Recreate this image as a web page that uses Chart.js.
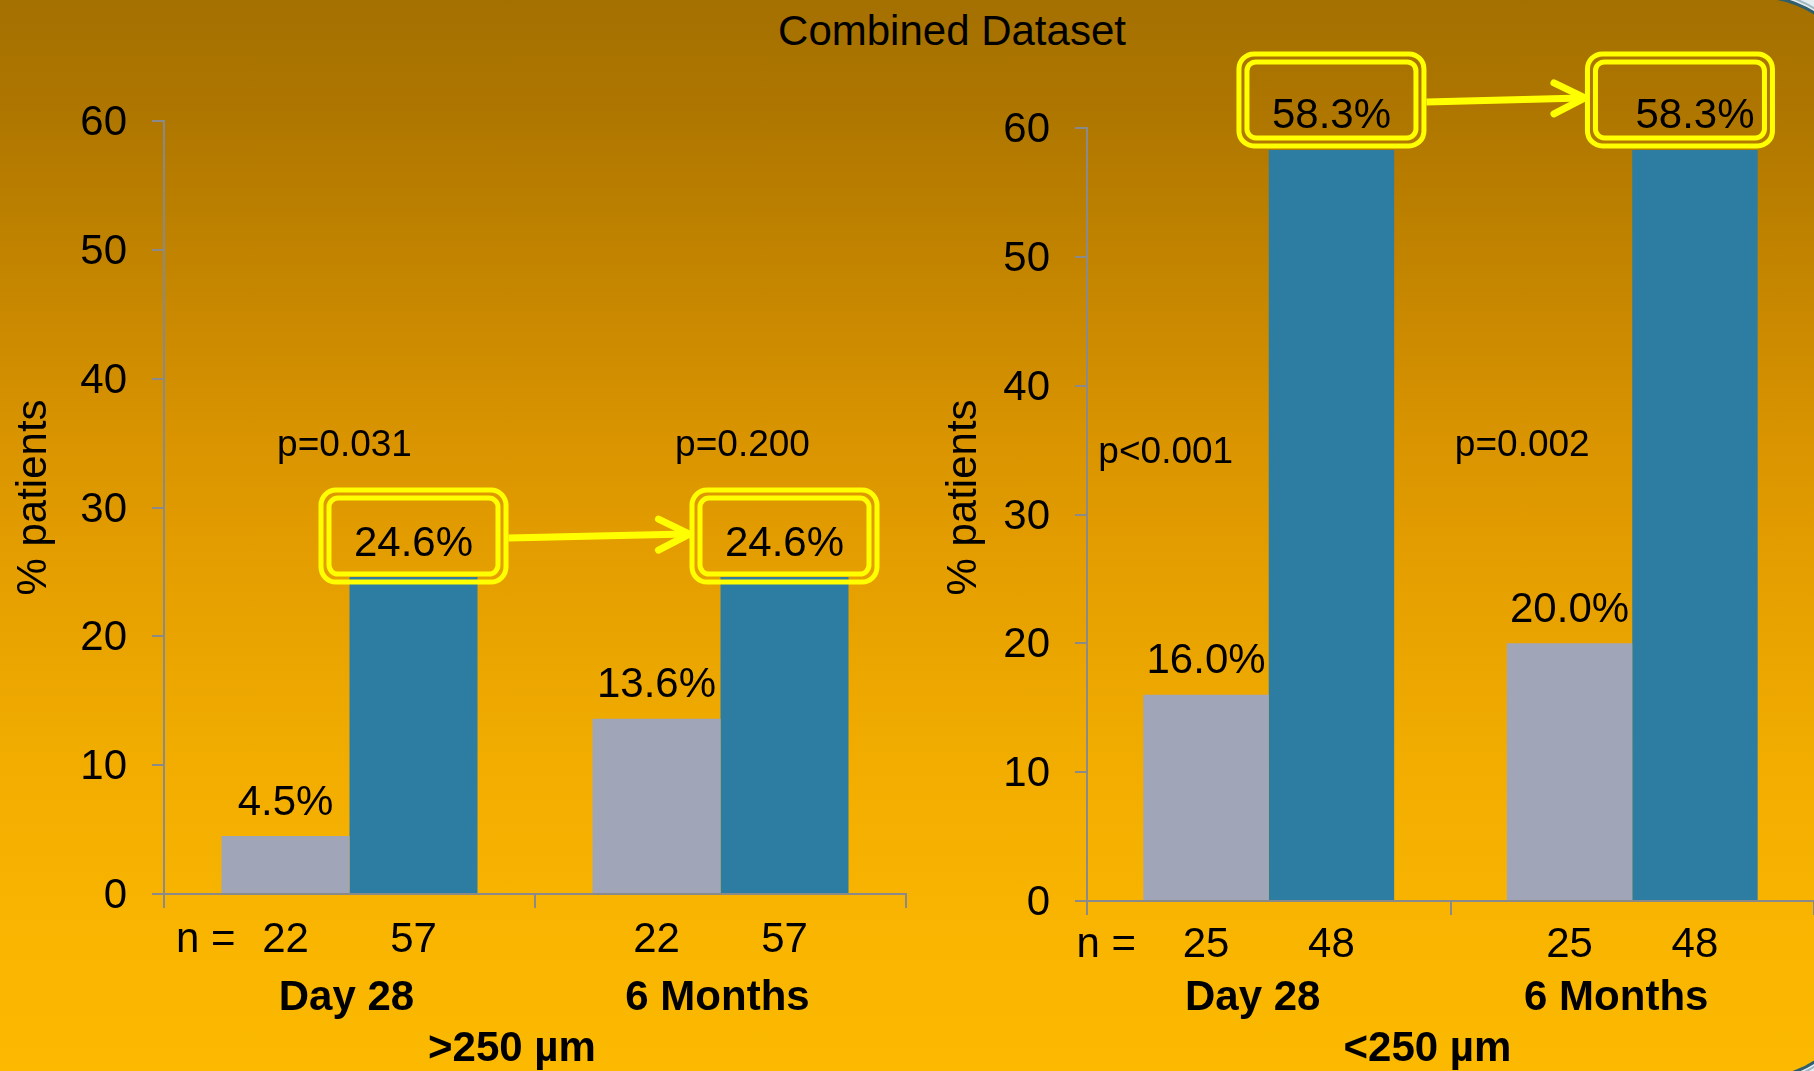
<!DOCTYPE html>
<html>
<head>
<meta charset="utf-8">
<script src="https://cdn.jsdelivr.net/npm/chart.js@4.4.1/dist/chart.umd.min.js"></script>
<style>
  html, body { margin: 0; padding: 0; }
  body {
    width: 1814px; height: 1071px; overflow: hidden; position: relative;
    background: linear-gradient(to bottom, #A47000 0%, #AE7600 10%, #D89300 40%, #E29C00 50%, #F1AC00 70%, #F8B400 85%, #FCB900 100%);
    font-family: "Liberation Sans", Arial, sans-serif;
  }
  #title {
    position: absolute; left: 752px; width: 400px; top: 6px;
    text-align: center; font-size: 42px; line-height: 50px; color: #000;
  }
  canvas { position: absolute; top: 0; }
  #leftChart { left: 0; }
  #rightChart { left: 930px; }
</style>
</head>
<body>
<div id="title">Combined Dataset</div>
<canvas id="leftChart" width="930" height="1071"></canvas>
<canvas id="rightChart" width="884" height="1071"></canvas>
<script>
// ---- data ----
const timepoints = ['Day 28', '6 Months'];
const groupLabels = ['>250 µm', '<250 µm'];
const yTicks = [0, 10, 20, 30, 40, 50, 60];
const yTitle = '% patients';

// >250 µm panel
const leftGray = [4.5, 13.6];
const leftBlue = [24.6, 24.6];
const leftGrayN = [22, 22];
const leftBlueN = [57, 57];
const leftP = ['p=0.031', 'p=0.200'];

// <250 µm panel
const rightGray = [16.0, 20.0];
const rightBlue = [58.3, 58.3];
const rightGrayN = [25, 25];
const rightBlueN = [48, 48];
const rightP = ['p<0.001', 'p=0.002'];

// ---- styling ----
const FONT = '"Liberation Sans", Arial, sans-serif';
const AXIS_GREY = '#8A8A8A';
const GRAY_BAR = '#A1A5B8';
const BLUE_BAR = '#2D7CA1';
const HIGHLIGHT = '#FFFF00';
const NUDGE = 3; // optical centring of middle-baseline text

Chart.defaults.font.family = FONT;
Chart.defaults.color = '#000';

function doubleBox(ctx, cx, cy) {
  ctx.save();
  ctx.strokeStyle = HIGHLIGHT;
  ctx.lineWidth = 5;
  ctx.beginPath();
  ctx.roundRect(cx - 92.5, cy - 46, 185, 92, 15);
  ctx.stroke();
  ctx.beginPath();
  ctx.roundRect(cx - 84.5, cy - 38, 169, 76, 9);
  ctx.stroke();
  ctx.restore();
}

// value labels, highlight boxes, arrow, n counts, p-values, axis title and group caption
const callouts = {
  id: 'callouts',
  afterDatasetsDraw(chart, args, o) {
    const { ctx, chartArea, scales: { x, y } } = chart;
    const grayMeta = chart.getDatasetMeta(0);
    const blueMeta = chart.getDatasetMeta(1);
    const ds = chart.data.datasets;
    ctx.save();
    ctx.fillStyle = '#000';
    ctx.textAlign = 'center';
    ctx.textBaseline = 'middle';

    // grey bar values
    ctx.font = '42px ' + FONT;
    grayMeta.data.forEach((bar, i) => {
      ctx.fillText(ds[0].data[i].toFixed(1) + '%', bar.x, bar.y - 36 + NUDGE);
    });

    // highlighted blue bar values
    const boxes = blueMeta.data.map((bar, i) => {
      const c = { cx: bar.x + o.boxShift[i], cy: bar.y - o.boxLift };
      doubleBox(ctx, c.cx, c.cy);
      return c;
    });
    blueMeta.data.forEach((bar, i) => {
      ctx.fillText(ds[1].data[i].toFixed(1) + '%', bar.x, bar.y - 36 + NUDGE);
    });

    // arrow from first box to second
    const a = boxes[0], b = boxes[1];
    const x0 = a.cx + 95, x1 = b.cx - 95;
    ctx.strokeStyle = HIGHLIGHT;
    ctx.lineWidth = 7;
    ctx.lineCap = 'butt';
    ctx.beginPath();
    ctx.moveTo(x0, a.cy + 2);
    ctx.lineTo(x1 - 3, b.cy - 2);
    ctx.stroke();
    ctx.lineCap = 'round';
    ctx.lineJoin = 'round';
    ctx.beginPath();
    ctx.moveTo(x1 - 31, b.cy - 17);
    ctx.lineTo(x1, b.cy - 2);
    ctx.lineTo(x1 - 31, b.cy + 14);
    ctx.stroke();

    // group sizes
    ctx.font = '42px ' + FONT;
    const nY = chartArea.bottom + o.nGap + NUDGE;
    grayMeta.data.forEach((bar, i) => ctx.fillText(String(o.grayN[i]), bar.x, nY));
    blueMeta.data.forEach((bar, i) => ctx.fillText(String(o.blueN[i]), bar.x, nY));
    ctx.textAlign = 'right';
    ctx.fillText('n =', grayMeta.data[0].x - o.nPrefixGap, nY);

    // p-values
    ctx.textAlign = 'center';
    ctx.font = '37px ' + FONT;
    o.pValues.forEach((txt, i) => {
      const [dx, yv] = o.pPlacement[i];
      ctx.fillText(txt, x.getPixelForValue(i) + dx, y.getPixelForValue(yv) + NUDGE);
    });

    // y-axis title
    ctx.save();
    ctx.font = '42px ' + FONT;
    ctx.translate(y.left + 31, (chartArea.top + chartArea.bottom) / 2 - o.yTitleRaise);
    ctx.rotate(-Math.PI / 2);
    ctx.fillText(yTitle, 0, NUDGE);
    ctx.restore();

    // panel caption
    ctx.font = 'bold 42px ' + FONT;
    ctx.fillText(o.caption, (chartArea.left + chartArea.right) / 2 - 23, chart.height - 25 + NUDGE);
    ctx.restore();
  }
};

// rounded slide corner on the right edge
const slideFrame = {
  id: 'slideFrame',
  afterDraw(chart, args, o) {
    if (!o.enabled) return;
    const { ctx, width, height } = chart;
    const left = -1000, top = -3, right = 1860 - 930, bottom = 1078, r = 100;
    ctx.save();
    ctx.beginPath();
    ctx.rect(0, 0, width, height);
    ctx.roundRect(left, top, right - left, bottom - top, r);
    ctx.fillStyle = '#E6EDF0';
    ctx.fill('evenodd');
    ctx.beginPath();
    ctx.roundRect(left, top, right - left, bottom - top, r);
    ctx.strokeStyle = '#2F5E6E';
    ctx.lineWidth = 3;
    ctx.stroke();
    ctx.beginPath();
    ctx.roundRect(left - 4, top - 4, right - left + 8, bottom - top + 8, r + 4);
    ctx.strokeStyle = '#9FB8C2';
    ctx.lineWidth = 2;
    ctx.stroke();
    ctx.restore();
  }
};

function makePanel(canvasId, cfg) {
  return new Chart(document.getElementById(canvasId), {
    type: 'bar',
    data: {
      labels: timepoints,
      datasets: [
        { label: 'Gray', data: cfg.gray, backgroundColor: GRAY_BAR, borderWidth: 0,
          categoryPercentage: 0.69, barPercentage: 1.0 },
        { label: 'Blue', data: cfg.blue, backgroundColor: BLUE_BAR, borderWidth: 0,
          categoryPercentage: 0.69, barPercentage: 1.0 }
      ]
    },
    options: {
      responsive: false,
      animation: false,
      layout: { padding: { top: cfg.top, right: cfg.right, left: 0, bottom: 0 } },
      scales: {
        x: {
          offset: true,
          ticks: { color: '#000', font: { size: 42, weight: 'bold' }, padding: cfg.xTickPad, labelOffset: cfg.labelOffset, maxRotation: 0 },
          grid: { display: true, drawOnChartArea: false, drawTicks: true, tickLength: 14, color: AXIS_GREY, lineWidth: 2, offset: true },
          border: { display: true, color: AXIS_GREY, width: 2 },
          afterFit: (s) => { s.height = cfg.xAxisHeight; }
        },
        y: {
          min: yTicks[0],
          max: yTicks[yTicks.length - 1],
          afterBuildTicks: (s) => { s.ticks = yTicks.map((v) => ({ value: v })); },
          ticks: { color: '#000', font: { size: 42 }, padding: 25, labelOffset: 2.5 },
          grid: { display: true, drawOnChartArea: false, drawTicks: true, tickLength: 12, color: AXIS_GREY, lineWidth: 2 },
          border: { display: true, color: AXIS_GREY, width: 2 },
          afterFit: (s) => { s.width = cfg.yAxisWidth; }
        }
      },
      plugins: {
        legend: { display: false },
        tooltip: { enabled: false },
        callouts: {
          boxLift: cfg.boxLift,
          boxShift: cfg.boxShift,
          grayN: cfg.grayN,
          blueN: cfg.blueN,
          nGap: cfg.nGap,
          nPrefixGap: cfg.nPrefixGap,
          pValues: cfg.p,
          pPlacement: cfg.pPlacement,
          yTitleRaise: cfg.yTitleRaise,
          caption: cfg.caption
        },
        slideFrame: { enabled: cfg.frame }
      }
    },
    plugins: [callouts, slideFrame]
  });
}

makePanel('leftChart', {
  gray: leftGray, blue: leftBlue, grayN: leftGrayN, blueN: leftBlueN, p: leftP,
  caption: groupLabels[0],
  top: 121, right: 24, xAxisHeight: 177, yAxisWidth: 164, xTickPad: 65, labelOffset: -3,
  boxLift: 41, boxShift: [0, 0], nGap: 43, nPrefixGap: 50, yTitleRaise: 10,
  pPlacement: [[-5, 35.0], [22, 35.0]],
  frame: false
});

makePanel('rightChart', {
  gray: rightGray, blue: rightBlue, grayN: rightGrayN, blueN: rightBlueN, p: rightP,
  caption: groupLabels[1],
  top: 128, right: 0, xAxisHeight: 170, yAxisWidth: 157, xTickPad: 58, labelOffset: -16,
  boxLift: 50, boxShift: [0, -15], nGap: 41, nPrefixGap: 70, yTitleRaise: 17,
  pPlacement: [[-103, 35.0], [-110, 35.6]],
  frame: true
});
</script>
</body>
</html>
